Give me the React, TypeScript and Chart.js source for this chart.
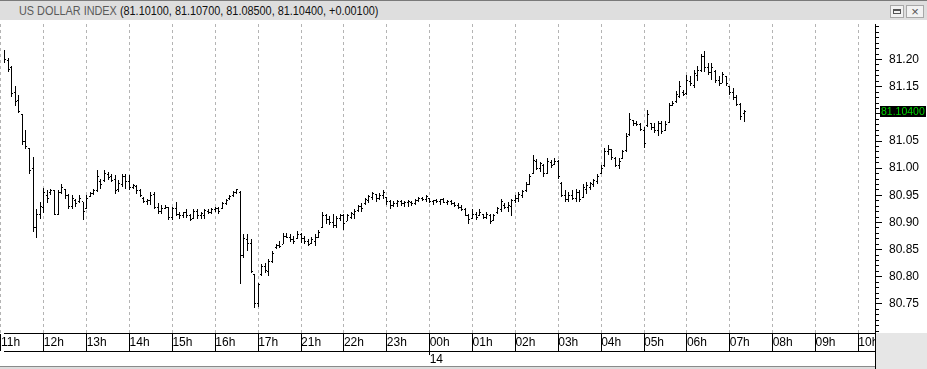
import React, { useEffect, useRef } from 'react';
import { Chart, registerables } from 'chart.js';

Chart.register(...registerables);

// ---------- data ----------
const instrument = 'US DOLLAR INDEX';
const hourLabels = ['11h', '12h', '13h', '14h', '15h', '16h', '17h', '21h', '22h', '23h', '00h', '01h', '02h', '03h', '04h', '05h', '06h', '07h', '08h', '09h', '10h'];
const barsPerHour = 12;
const dateLabel = '14';
const dateHourIndex = 10; // 00h
const yTickValues = [80.75, 80.8, 80.85, 80.9, 80.95, 81.0, 81.05, 81.1, 81.15, 81.2];
const lastChange = 0.001;

const openVals = [
  81.225, 81.210, 81.198, 81.185, 81.140, 81.125, 81.098, 81.050, 81.036, 81.000, 80.890, 80.915,
  80.928, 80.950, 80.955, 80.958, 80.915, 80.955, 80.960, 80.950, 80.930, 80.940, 80.938, 80.938,
  80.925, 80.948, 80.953, 80.958, 80.975, 80.978, 80.988, 80.985, 80.980, 80.960, 80.970, 80.985,
  80.975, 80.965, 80.967, 80.958, 80.945, 80.938, 80.940, 80.952, 80.928, 80.920, 80.925, 80.928,
  80.910, 80.925, 80.915, 80.912, 80.918, 80.912, 80.908, 80.920, 80.912, 80.912, 80.920, 80.918,
  80.924, 80.926, 80.926, 80.935, 80.944, 80.950, 80.955, 80.955, 80.840, 80.868, 80.862, 80.805,
  80.750, 80.805, 80.818, 80.810, 80.828, 80.853, 80.858, 80.860, 80.875, 80.873, 80.868, 80.870,
  80.878, 80.870, 80.864, 80.862, 80.865, 80.872, 80.890, 80.912, 80.905, 80.900, 80.895, 80.908,
  80.912, 80.902, 80.910, 80.915, 80.922, 80.930, 80.935, 80.940, 80.946, 80.952, 80.945, 80.950,
  80.946, 80.938, 80.932, 80.935, 80.938, 80.934, 80.936, 80.937, 80.935, 80.940, 80.944, 80.942,
  80.945, 80.938, 80.940, 80.938, 80.942, 80.936, 80.938, 80.934, 80.931, 80.927, 80.924, 80.913,
  80.908, 80.915, 80.912, 80.915, 80.910, 80.912, 80.904, 80.918, 80.924, 80.932, 80.928, 80.930,
  80.940, 80.945, 80.950, 80.958, 80.970, 80.990, 81.012, 81.000, 81.005, 80.990, 81.010, 81.007,
  81.012, 80.972, 80.950, 80.942, 80.950, 80.945, 80.955, 80.946, 80.960, 80.965, 80.970, 80.975,
  80.990, 81.005, 81.030, 81.034, 81.018, 81.005, 81.018, 81.032, 81.062, 81.087, 81.082, 81.080,
  81.070, 81.078, 81.082, 81.075, 81.070, 81.082, 81.070, 81.085, 81.116, 81.122, 81.132, 81.140,
  81.137, 81.160, 81.152, 81.170, 81.180, 81.205, 81.185, 81.176, 81.178, 81.162, 81.156, 81.168,
  81.150, 81.140, 81.130, 81.118, 81.101,
];
const highVals = [
  81.229, 81.218, 81.202, 81.189, 81.151, 81.135, 81.100, 81.071, 81.038, 81.020, 80.925, 80.938,
  80.964, 80.960, 80.962, 80.960, 80.960, 80.971, 80.962, 80.953, 80.951, 80.944, 80.951, 80.938,
  80.951, 80.956, 80.962, 80.996, 80.980, 80.996, 80.993, 80.989, 80.987, 80.978, 80.989, 80.989,
  80.987, 80.971, 80.969, 80.962, 80.947, 80.944, 80.956, 80.956, 80.935, 80.933, 80.933, 80.929,
  80.929, 80.938, 80.920, 80.920, 80.924, 80.916, 80.925, 80.924, 80.920, 80.925, 80.924, 80.927,
  80.929, 80.929, 80.938, 80.944, 80.951, 80.958, 80.962, 80.958, 80.878, 80.878, 80.869, 80.805,
  80.789, 80.824, 80.825, 80.833, 80.847, 80.860, 80.865, 80.880, 80.880, 80.878, 80.875, 80.884,
  80.880, 80.875, 80.869, 80.873, 80.878, 80.887, 80.920, 80.916, 80.911, 80.915, 80.911, 80.916,
  80.915, 80.916, 80.920, 80.924, 80.933, 80.935, 80.945, 80.951, 80.956, 80.953, 80.955, 80.960,
  80.947, 80.942, 80.940, 80.942, 80.942, 80.940, 80.942, 80.940, 80.944, 80.947, 80.947, 80.951,
  80.945, 80.942, 80.944, 80.944, 80.945, 80.942, 80.942, 80.938, 80.936, 80.933, 80.927, 80.916,
  80.924, 80.920, 80.924, 80.916, 80.920, 80.915, 80.915, 80.929, 80.944, 80.935, 80.938, 80.944,
  80.951, 80.956, 80.960, 80.975, 80.989, 81.025, 81.016, 81.011, 81.007, 81.018, 81.015, 81.018,
  81.015, 80.975, 80.960, 80.956, 80.960, 80.962, 80.960, 80.971, 80.975, 80.975, 80.980, 80.989,
  81.005, 81.038, 81.042, 81.036, 81.020, 81.018, 81.033, 81.065, 81.102, 81.089, 81.087, 81.084,
  81.075, 81.107, 81.084, 81.084, 81.087, 81.087, 81.087, 81.120, 81.124, 81.142, 81.160, 81.144,
  81.171, 81.169, 81.180, 81.189, 81.211, 81.215, 81.193, 81.193, 81.180, 81.169, 81.178, 81.169,
  81.151, 81.147, 81.135, 81.120, 81.107,
];
const lowVals = [
  81.205, 81.193, 81.178, 81.131, 81.115, 81.102, 81.042, 81.036, 80.989, 80.882, 80.871, 80.907,
  80.918, 80.935, 80.951, 80.913, 80.913, 80.953, 80.944, 80.925, 80.924, 80.929, 80.935, 80.905,
  80.925, 80.947, 80.951, 80.956, 80.962, 80.975, 80.978, 80.975, 80.953, 80.956, 80.965, 80.962,
  80.960, 80.962, 80.953, 80.947, 80.935, 80.933, 80.933, 80.924, 80.916, 80.915, 80.924, 80.905,
  80.905, 80.911, 80.907, 80.909, 80.909, 80.902, 80.907, 80.907, 80.907, 80.907, 80.915, 80.916,
  80.920, 80.915, 80.925, 80.933, 80.942, 80.947, 80.953, 80.787, 80.835, 80.847, 80.807, 80.742,
  80.744, 80.802, 80.807, 80.802, 80.825, 80.851, 80.853, 80.860, 80.871, 80.864, 80.860, 80.869,
  80.862, 80.860, 80.856, 80.860, 80.856, 80.871, 80.889, 80.898, 80.895, 80.889, 80.889, 80.902,
  80.887, 80.902, 80.907, 80.907, 80.920, 80.920, 80.933, 80.935, 80.942, 80.938, 80.942, 80.944,
  80.933, 80.925, 80.929, 80.929, 80.931, 80.929, 80.929, 80.931, 80.933, 80.938, 80.940, 80.938,
  80.935, 80.933, 80.935, 80.933, 80.935, 80.933, 80.933, 80.929, 80.925, 80.922, 80.911, 80.898,
  80.907, 80.905, 80.911, 80.907, 80.907, 80.898, 80.902, 80.916, 80.920, 80.924, 80.920, 80.911,
  80.935, 80.938, 80.945, 80.956, 80.969, 80.989, 80.996, 80.993, 80.984, 80.989, 81.000, 81.005,
  80.980, 80.947, 80.938, 80.938, 80.942, 80.938, 80.938, 80.945, 80.953, 80.960, 80.965, 80.971,
  80.989, 81.002, 81.024, 81.015, 81.002, 80.998, 81.016, 81.030, 81.060, 81.078, 81.078, 81.069,
  81.038, 81.075, 81.071, 81.065, 81.060, 81.062, 81.069, 81.084, 81.115, 81.120, 81.129, 81.133,
  81.135, 81.151, 81.147, 81.160, 81.178, 81.178, 81.171, 81.162, 81.156, 81.151, 81.156, 81.151,
  81.135, 81.125, 81.115, 81.089, 81.085,
];
const closeVals = [
  81.210, 81.200, 81.182, 81.138, 81.122, 81.105, 81.050, 81.040, 80.995, 80.890, 80.915, 80.930,
  80.955, 80.945, 80.958, 80.915, 80.955, 80.965, 80.950, 80.930, 80.945, 80.935, 80.945, 80.920,
  80.945, 80.953, 80.958, 80.985, 80.970, 80.990, 80.982, 80.978, 80.958, 80.972, 80.985, 80.975,
  80.965, 80.968, 80.958, 80.950, 80.938, 80.940, 80.950, 80.928, 80.920, 80.925, 80.928, 80.910,
  80.925, 80.915, 80.912, 80.918, 80.912, 80.906, 80.920, 80.912, 80.916, 80.922, 80.918, 80.924,
  80.926, 80.920, 80.935, 80.940, 80.948, 80.955, 80.960, 80.840, 80.870, 80.862, 80.810, 80.750,
  80.785, 80.818, 80.812, 80.828, 80.842, 80.858, 80.855, 80.875, 80.873, 80.868, 80.865, 80.878,
  80.870, 80.864, 80.860, 80.868, 80.872, 80.882, 80.912, 80.905, 80.900, 80.895, 80.908, 80.912,
  80.898, 80.912, 80.916, 80.920, 80.930, 80.926, 80.942, 80.948, 80.953, 80.945, 80.950, 80.955,
  80.938, 80.932, 80.935, 80.938, 80.934, 80.936, 80.938, 80.934, 80.940, 80.944, 80.942, 80.948,
  80.938, 80.940, 80.938, 80.942, 80.936, 80.938, 80.934, 80.931, 80.927, 80.924, 80.913, 80.905,
  80.915, 80.910, 80.918, 80.910, 80.915, 80.902, 80.912, 80.925, 80.938, 80.928, 80.932, 80.940,
  80.945, 80.952, 80.957, 80.970, 80.985, 81.015, 81.000, 81.008, 80.990, 81.012, 81.005, 81.012,
  80.985, 80.950, 80.942, 80.950, 80.945, 80.955, 80.942, 80.965, 80.968, 80.972, 80.977, 80.985,
  81.000, 81.030, 81.035, 81.020, 81.005, 81.012, 81.030, 81.058, 81.090, 81.082, 81.080, 81.072,
  81.045, 81.098, 81.075, 81.070, 81.082, 81.068, 81.080, 81.115, 81.120, 81.135, 81.150, 81.136,
  81.162, 81.155, 81.175, 81.180, 81.205, 81.185, 81.176, 81.185, 81.162, 81.155, 81.172, 81.155,
  81.140, 81.130, 81.118, 81.095, 81.104,
];

// ---------- layout constants ----------
const X_MIN = 0.855;
const X_MAX = 0.855 + 875 / 3.589;
const Y_MIN = 80.6964;
const Y_MAX = 81.2655;
const FONT = '"Liberation Sans", Arial, sans-serif';

function makeMark(left: boolean) {
  const c = document.createElement('canvas');
  c.width = 3;
  c.height = 1;
  const g = c.getContext('2d')!;
  g.fillStyle = '#000';
  g.fillRect(left ? 0 : 2, 0, 1, 1);
  return c;
}

const snapPlugin = {
  id: 'snap',
  beforeDatasetsDraw(chart: any) {
    chart.data.datasets.forEach((_: any, di: number) => {
      const meta = chart.getDatasetMeta(di);
      meta.data.forEach((el: any) => {
        el.x = Math.round(el.x - 0.5) + 0.5;
        if (meta.type === 'bar') {
          el.y = Math.round(el.y);
          el.base = Math.round(el.base);
        } else {
          el.y = Math.round(el.y - 0.5) + 0.5;
        }
      });
    });
  },
};

const decorPlugin = {
  id: 'decor',
  beforeDraw(chart: any) {
    const { ctx, width, height } = chart;
    ctx.save();
    ctx.fillStyle = '#fff';
    ctx.fillRect(0, 0, width, height);
    ctx.restore();
  },
  afterDraw(chart: any) {
    const { ctx, chartArea: ca, scales, width, height } = chart;
    const y = scales.y;
    ctx.save();
    // minor ticks every 0.01
    ctx.strokeStyle = '#000';
    ctx.lineWidth = 1;
    ctx.beginPath();
    for (let k = Math.ceil(y.min * 100); k <= Math.floor(y.max * 100); k++) {
      const py = Math.round(y.getPixelForValue(k / 100) - 0.5) + 0.5;
      ctx.moveTo(ca.right, py);
      ctx.lineTo(ca.right + 4, py);
    }
    ctx.stroke();
    // bottom right grey corner
    ctx.fillStyle = '#e6e6e6';
    ctx.fillRect(ca.right + 1, ca.bottom, width - ca.right - 1, height - ca.bottom);
    ctx.fillStyle = '#000';
    ctx.fillRect(ca.right, ca.bottom, 1, height - ca.bottom);
    // bottom frame
    ctx.fillStyle = '#8a8a8a';
    ctx.fillRect(0, height - 3, ca.right, 1);
    ctx.fillStyle = '#dcdcdc';
    ctx.fillRect(0, height - 2, ca.right, 2);
    // last price box
    const last = closeVals[closeVals.length - 1];
    const py = Math.round(y.getPixelForValue(last));
    ctx.fillStyle = '#000';
    ctx.fillRect(ca.right + 5, py - 6, width - ca.right - 6, 11);
    ctx.fillStyle = '#00d400';
    ctx.font = '10.5px ' + FONT;
    ctx.textBaseline = 'middle';
    ctx.textAlign = 'left';
    ctx.fillText(last.toFixed(5), ca.right + 6, py);
    ctx.restore();
  },
};

export default function App() {
  const ref = useRef<HTMLCanvasElement>(null);

  useEffect(() => {
    const canvas = ref.current!;
    const openMark = makeMark(true);
    const closeMark = makeMark(false);
    const idx = closeVals.map((_, i) => i);
    const chart = new Chart(canvas, {
      type: 'bar',
      data: {
        datasets: [
          {
            type: 'bar',
            data: idx.map((i) => ({ x: i, y: [lowVals[i], highVals[i]] })) as any,
            backgroundColor: '#000',
            borderWidth: 0,
            barThickness: 1,
            grouped: false,
            inflateAmount: 0,
            xAxisID: 'x',
            yAxisID: 'y',
          } as any,
          {
            type: 'line',
            data: idx.map((i) => ({ x: i, y: openVals[i] })),
            showLine: false,
            pointStyle: openMark,
            pointRadius: 2,
            pointBorderWidth: 0,
            xAxisID: 'x',
            yAxisID: 'y',
          } as any,
          {
            type: 'line',
            data: idx.map((i) => ({ x: i, y: closeVals[i] })),
            showLine: false,
            pointStyle: closeMark,
            pointRadius: 2,
            pointBorderWidth: 0,
            xAxisID: 'x',
            yAxisID: 'y',
          } as any,
        ],
      },
      options: {
        responsive: false,
        animation: false,
        events: [],
        layout: { padding: 0 },
        plugins: { legend: { display: false }, tooltip: { enabled: false }, title: { display: false } },
        scales: {
          x: {
            type: 'linear',
            position: 'bottom',
            weight: 0,
            min: X_MIN,
            max: X_MAX,
            bounds: 'data',
            offset: false,
            afterBuildTicks: (s: any) => {
              s.ticks = hourLabels.map((_, k) => ({ value: k * barsPerHour }));
            },
            afterFit: (s: any) => {
              s.height = 18;
              s.paddingLeft = 0;
              s.paddingRight = 0;
            },
            grid: {
              display: true,
              offset: false,
              drawOnChartArea: true,
              drawTicks: true,
              tickLength: 18,
              color: '#b4b4b4',
              lineWidth: 1,
              tickColor: '#000',
              tickWidth: 1,
            },
            border: { display: true, color: '#000', width: 1, dash: [3, 3] },
            ticks: {
              autoSkip: false,
              maxRotation: 0,
              minRotation: 0,
              align: 'start',
              padding: -15.4,
              color: '#000',
              font: { family: FONT, size: 12 },
              callback: (_v: any, k: number) => hourLabels[k],
            },
          } as any,
          x2: {
            type: 'linear',
            axis: 'x',
            position: 'bottom',
            weight: 1,
            min: X_MIN,
            max: X_MAX,
            bounds: 'data',
            offset: false,
            afterBuildTicks: (s: any) => {
              s.ticks = [{ value: dateHourIndex * barsPerHour }];
            },
            afterFit: (s: any) => {
              s.height = 18;
              s.paddingLeft = 0;
              s.paddingRight = 0;
            },
            grid: { display: true, offset: false, drawOnChartArea: false, drawTicks: true, tickLength: 4, tickColor: '#000' },
            border: { display: true, color: '#000', width: 1 },
            ticks: {
              autoSkip: false,
              maxRotation: 0,
              minRotation: 0,
              align: 'start',
              padding: -2.2,
              color: '#000',
              font: { family: FONT, size: 12 },
              callback: () => dateLabel,
            },
          } as any,
          y: {
            type: 'linear',
            position: 'right',
            min: Y_MIN,
            max: Y_MAX,
            bounds: 'data',
            beginAtZero: false,
            afterBuildTicks: (s: any) => {
              s.ticks = yTickValues.map((v) => ({ value: v }));
            },
            afterFit: (s: any) => {
              s.width = 52;
              s.paddingTop = 0;
              s.paddingBottom = 0;
            },
            grid: { display: true, drawOnChartArea: false, drawTicks: true, tickLength: 7, tickColor: '#000', tickWidth: 1 },
            border: { display: true, color: '#000', width: 1 },
            ticks: {
              padding: 7,
              color: '#000',
              font: { family: FONT, size: 12 },
              callback: (v: any) => Number(v).toFixed(2),
            },
          } as any,
        },
      },
      plugins: [snapPlugin, decorPlugin],
    });
    return () => chart.destroy();
  }, []);

  const n = closeVals.length - 1;
  const values = `(${openVals[n].toFixed(5)}, ${highVals[n].toFixed(5)}, ${lowVals[n].toFixed(5)}, ${closeVals[n].toFixed(5)}, +${lastChange.toFixed(5)})`;

  return (
    <div style={{ position: 'absolute', left: 0, top: 0, width: 927, height: 369, overflow: 'hidden', background: '#fff' }}>
      <div
        style={{
          position: 'absolute',
          left: 0,
          top: 0,
          width: 927,
          height: 20,
          boxSizing: 'border-box',
          background: '#dedede',
          borderTop: '1px solid #7a7a7a',
        }}
      >
        <span
          style={{
            position: 'absolute',
            left: 19,
            top: 3,
            fontFamily: FONT,
            fontSize: 12,
            lineHeight: '14px',
            whiteSpace: 'nowrap',
            transform: 'scaleX(0.906)',
            transformOrigin: '0 0',
          }}
        >
          <span style={{ color: '#5a5a5a' }}>{instrument}</span>
          <span style={{ color: '#111' }}> {values}</span>
        </span>
        <div
          style={{
            position: 'absolute',
            left: 890,
            top: 4,
            width: 14,
            height: 13,
            boxSizing: 'border-box',
            border: '1px solid #a8a8a8',
            background: '#f2f2f2',
          }}
        >
          <div
            style={{
              position: 'absolute',
              left: 2,
              top: 3,
              width: 8,
              height: 5,
              boxSizing: 'border-box',
              border: '1px solid #555',
              borderTop: '2px solid #555',
            }}
          />
        </div>
        <div
          style={{
            position: 'absolute',
            left: 906,
            top: 4,
            width: 18,
            height: 13,
            boxSizing: 'border-box',
            border: '1px solid #a8a8a8',
            background: '#f2f2f2',
            color: '#555',
            fontFamily: FONT,
            fontSize: 13,
            lineHeight: '11px',
            textAlign: 'center',
          }}
        >
          ×
        </div>
      </div>
      <canvas ref={ref} width={927} height={349} style={{ position: 'absolute', left: 0, top: 20, display: 'block' }} />
    </div>
  );
}
